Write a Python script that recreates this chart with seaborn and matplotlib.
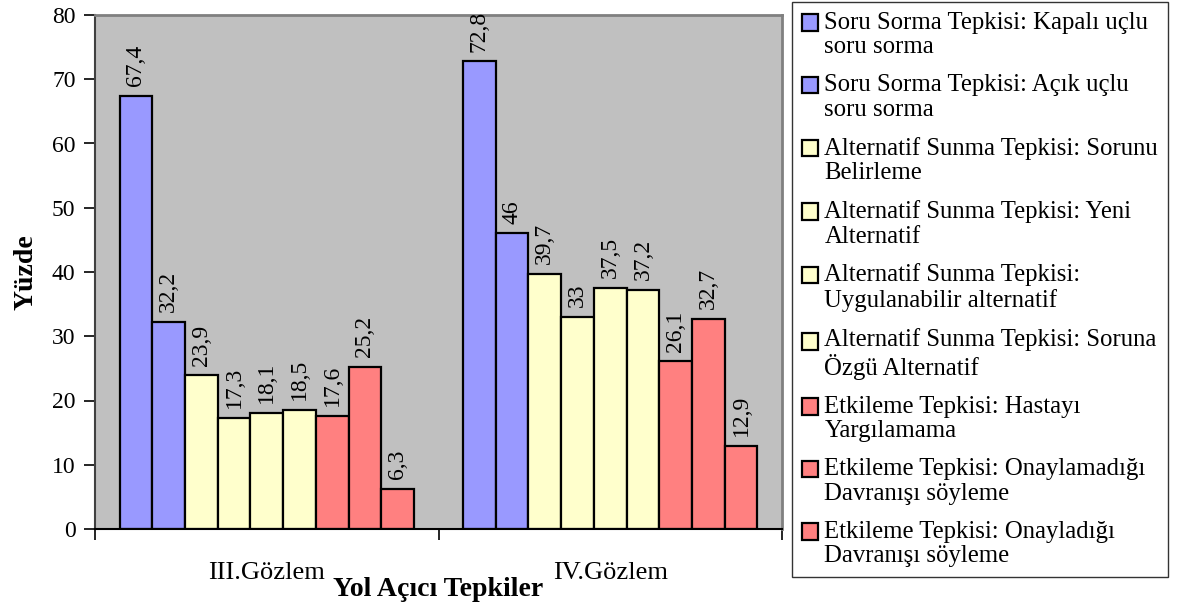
import matplotlib
matplotlib.use("Agg")
import matplotlib.pyplot as plt
from matplotlib.patches import Patch, Rectangle
from matplotlib.legend_handler import HandlerPatch
import seaborn as sns
import pandas as pd

# Observation groups and response categories
groups = ["III.Gözlem", "IV.Gözlem"]
categories = [
    "Soru Sorma Tepkisi: Kapalı uçlu\nsoru sorma",
    "Soru Sorma Tepkisi: Açık uçlu\nsoru sorma",
    "Alternatif Sunma Tepkisi: Sorunu\nBelirleme",
    "Alternatif Sunma Tepkisi: Yeni\nAlternatif",
    "Alternatif Sunma Tepkisi:\nUygulanabilir alternatif",
    "Alternatif Sunma Tepkisi: Soruna\nÖzgü Alternatif",
    "Etkileme Tepkisi: Hastayı\nYargılamama",
    "Etkileme Tepkisi: Onaylamadığı\nDavranışı söyleme",
    "Etkileme Tepkisi: Onayladığı\nDavranışı söyleme",
]
values_iii = [67.4, 32.2, 23.9, 17.3, 18.1, 18.5, 17.6, 25.2, 6.3]
values_iv = [72.8, 46, 39.7, 33, 37.5, 37.2, 26.1, 32.7, 12.9]
y_ticks = [0, 10, 20, 30, 40, 50, 60, 70, 80]

blue, yellow, red = "#9999FF", "#FFFFCC", "#FF8080"
palette = [blue, blue, yellow, yellow, yellow, yellow, red, red, red]

rows = []
for g, vals in zip(groups, [values_iii, values_iv]):
    for c, v in zip(categories, vals):
        rows.append({"Gözlem": g, "Tepki": c, "Yüzde": v})
df = pd.DataFrame(rows)

sns.set_theme(style="white")
plt.rcParams["font.family"] = ["Liberation Serif", "DejaVu Serif"]
plt.rcParams.update({"text.color": "black", "axes.labelcolor": "black",
                     "xtick.color": "black", "ytick.color": "black"})
fs_tick = 17
fs_val = 17
fs_cat = 19
fs_lab = 20
fs_leg = 17.8

fig = plt.figure(figsize=(11.78, 6.12), dpi=100)
ax = fig.add_axes([95 / 1178, 1 - 529 / 612, (782 - 95) / 1178, (529 - 15) / 612])
ax.set_facecolor("#C0C0C0")

sns.barplot(data=df, x="Gözlem", y="Yüzde", hue="Tepki", hue_order=categories,
            order=groups, palette=palette, width=9 / 10.5, dodge=True,
            edgecolor="black", linewidth=1.6, saturation=1, ax=ax, legend=False)

for cont, vals in zip(ax.containers, zip(values_iii, values_iv)):
    labels = [("%g" % v).replace(".", ",") for v in vals]
    ax.bar_label(cont, labels=labels, rotation=90, padding=7, fontsize=fs_val, color="black")

ax.set_ylim(0, 80)
ax.set_xlim(-0.5, 1.5)
ax.set_yticks(y_ticks)
ax.set_yticklabels([str(t) for t in y_ticks], fontsize=fs_tick)
ax.set_xticks([0, 1])
ax.set_xticklabels(groups, fontsize=fs_cat)
ax.set_xticks([-0.5, 0.5, 1.5], minor=True)
ax.tick_params(axis="x", which="major", length=0, pad=24)
ax.tick_params(axis="x", which="minor", length=8, width=1.2, color="black", direction="out", bottom=True)
ax.tick_params(axis="y", which="major", length=8, width=1.2, color="black", direction="out", left=True, pad=6)

ax.set_ylabel("Yüzde", fontsize=fs_lab, fontweight="bold", labelpad=10)
ax.set_xlabel("Yol Açıcı Tepkiler", fontsize=fs_lab, fontweight="bold", labelpad=-5)

for side in ["top", "right"]:
    ax.spines[side].set_visible(True)
    ax.spines[side].set_color("#808080")
    ax.spines[side].set_linewidth(2)
ax.spines["left"].set_color("#404040")
ax.spines["left"].set_linewidth(1.5)
ax.spines["bottom"].set_color("black")
ax.spines["bottom"].set_linewidth(1.5)


def first_line_square(legend, orig_handle, xdescent, ydescent, width, height, fontsize):
    # place the key square beside the first line of a two-line label
    return Rectangle((-xdescent, -ydescent + 0.5 * fontsize), width, height)


handles = [Patch(facecolor=c, edgecolor="black", linewidth=1.6) for c in palette]
leg = fig.legend(handles, categories, loc="upper left",
                 bbox_to_anchor=(792 / 1178, 1 - 2 / 612), frameon=True,
                 fontsize=fs_leg, handlelength=0.66, handleheight=0.66,
                 handletextpad=0.25, labelspacing=0.64, borderpad=0.4,
                 fancybox=False, borderaxespad=0,
                 handler_map={Patch: HandlerPatch(patch_func=first_line_square)})
for t in leg.get_texts():
    t.set_linespacing(1.15)
leg.get_frame().set_edgecolor("black")
leg.get_frame().set_linewidth(1.0)

fig.savefig("out.png", dpi=100, facecolor="white")
